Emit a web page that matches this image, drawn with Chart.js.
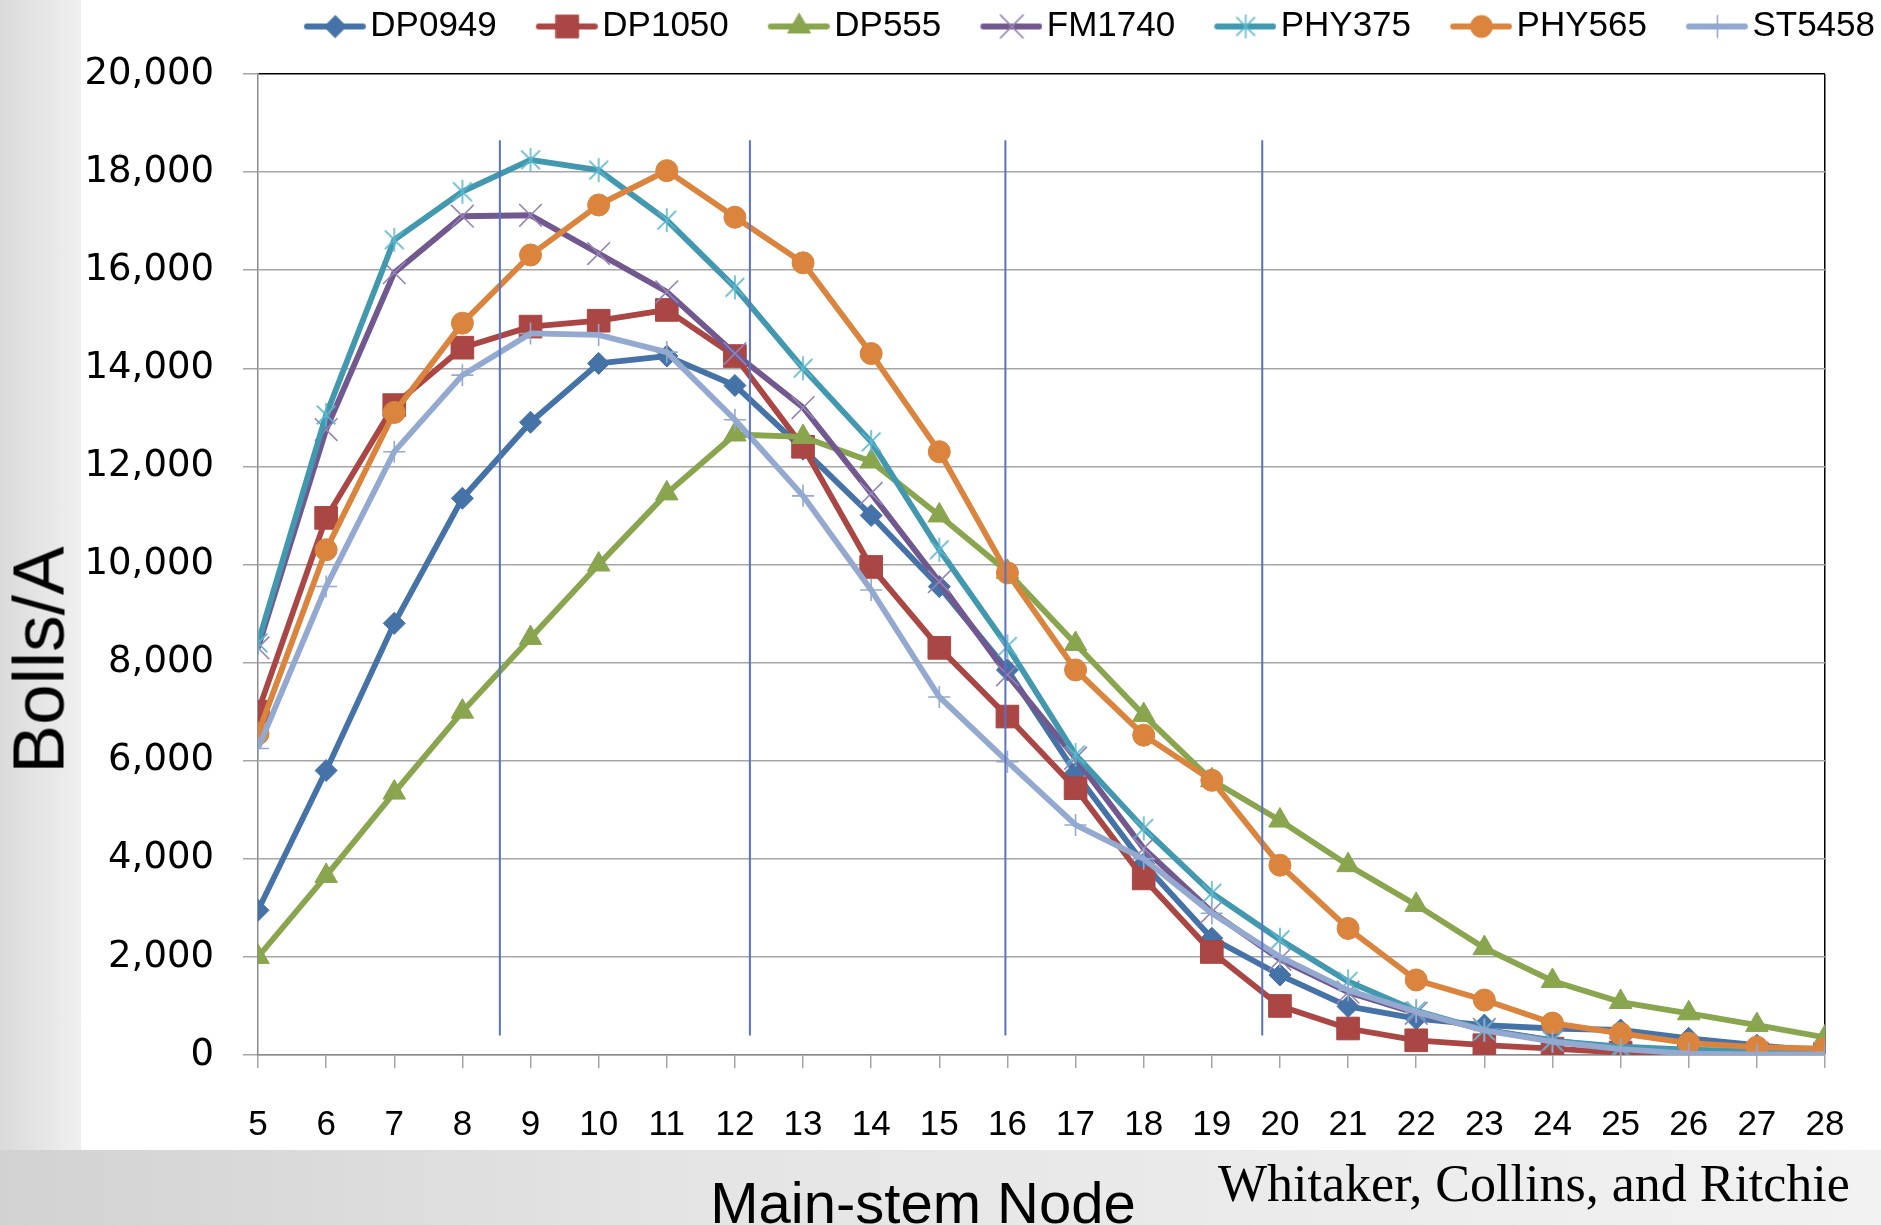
<!DOCTYPE html>
<html>
<head>
<meta charset="utf-8">
<script src="https://cdn.jsdelivr.net/npm/chart.js@4/dist/chart.umd.min.js"></script>
<style>
  html, body { margin: 0; padding: 0; width: 1881px; height: 1225px; overflow: hidden; }
  body {
    background:
      linear-gradient(to right, #dadada 0px, #f0f0f0 81px) 0 0 / 81px 1150px no-repeat,
      linear-gradient(to right, #d2d2d2 0%, #e4e4e4 35%, #f2f2f2 100%) 0 1150px / 1881px 75px no-repeat,
      #ececec;
  }
  #lienzo { position: relative; width: 1881px; height: 1225px; }
  #lienzo canvas { position: absolute; left: 0; top: 0; }
  .texto { position: absolute; white-space: nowrap; color: #000; line-height: 1; }
  #tituloY { left: 38px; top: 660px; font: 73px 'Liberation Sans', Arial, sans-serif; transform: translate(-50%, -50%) rotate(-90deg); }
  #tituloX { left: 923px; top: 1169px; font: 58px 'Liberation Sans', Arial, sans-serif; transform: translateX(-50%); }
  #cita { left: 1218px; top: 1154px; font: 52px 'Liberation Serif', 'Times New Roman', serif; }
</style>
</head>
<body>
<div id="lienzo">
  <canvas id="bollos" width="1881" height="1225"></canvas>
  <div class="texto" id="tituloY">Bolls/A</div>
  <div class="texto" id="tituloX">Main-stem Node</div>
  <div class="texto" id="cita">Whitaker, Collins, and Ritchie</div>
</div>
<script>
// === Datos ===
const nodos = [5, 6, 7, 8, 9, 10, 11, 12, 13, 14, 15, 16, 17, 18, 19, 20, 21, 22, 23, 24, 25, 26, 27, 28];
const variedades = ['DP0949', 'DP1050', 'DP555', 'FM1740', 'PHY375', 'PHY565', 'ST5458'];

const dp0949 = [2950, 5800, 8800, 11350, 12900, 14100, 14250, 13650, 12350, 11000, 9550, 7850, 5750, 3900, 2380, 1630, 990, 740, 610, 540, 510, 340, 200, 70];
const dp1050 = [7000, 10950, 13250, 14420, 14850, 14970, 15190, 14250, 12400, 9950, 8300, 6900, 5440, 3600, 2100, 1000, 540, 300, 200, 130, 50, 20, 20, 20];
const dp555 = [2000, 3650, 5350, 7000, 8500, 10000, 11450, 12650, 12600, 12100, 11000, 9850, 8380, 6930, 5600, 4780, 3870, 3060, 2180, 1510, 1080, 850, 610, 360];
const fm1740 = [8300, 12750, 15950, 17100, 17120, 16340, 15560, 14300, 13200, 11450, 9650, 7750, 6050, 4210, 2920, 1950, 1280, 850, 520, 300, 130, 60, 40, 30];
const phy375 = [8400, 13050, 16620, 17600, 18250, 18040, 17020, 15650, 14000, 12500, 10300, 8330, 6120, 4620, 3300, 2350, 1500, 900, 510, 290, 170, 110, 80, 60];
const phy565 = [6550, 10300, 13100, 14920, 16310, 17330, 18030, 17080, 16150, 14300, 12300, 9830, 7850, 6520, 5600, 3870, 2580, 1530, 1120, 650, 440, 240, 160, 130];
const st5458 = [6250, 9550, 12300, 13860, 14710, 14680, 14330, 12950, 11400, 9480, 7300, 5980, 4690, 4000, 2890, 2000, 1320, 880, 500, 270, 120, 30, 10, 10];

// lineas verticales azules (nodo) y su alto (Bolls/A)
const divisiones = [8.55, 12.22, 15.97, 19.74];
const rangoDivision = [400, 18650];

const valores = [dp0949, dp1050, dp555, fm1740, phy375, phy565, st5458];

// === Estilos ===
const colorLinea = ['#4572a7', '#aa4643', '#89a54e', '#71588f', '#4198af', '#db843d', '#93a9cf'];
const colorMarca = ['#4572a7', '#aa4643', '#89a54e', '#9484b6', '#5cb6cc', '#db843d', '#93a9cf'];
const grosorLinea = 5.8;

function asterisco(color, r) {
  const c = document.createElement('canvas');
  c.width = c.height = 2 * r + 4;
  const g = c.getContext('2d');
  const m = r + 2, d = r * 0.78;
  g.strokeStyle = color;
  g.lineWidth = 1.6;
  g.beginPath();
  g.moveTo(m, m - r); g.lineTo(m, m + r);
  g.moveTo(m - d, m - d); g.lineTo(m + d, m + d);
  g.moveTo(m + d, m - d); g.lineTo(m - d, m + d);
  g.stroke();
  return c;
}

const marcas = [
  { estilo: 'rectRot', radio: 11, borde: 1 },
  { estilo: 'rect', radio: 16, borde: 1 },
  { estilo: 'triangle', radio: 13, borde: 1 },
  { estilo: 'crossRot', radio: 16, borde: 1.6 },
  { estilo: asterisco(colorMarca[4], 12), radio: 12, borde: 1.6 },
  { estilo: 'circle', radio: 11, borde: 1 },
  { estilo: 'cross', radio: 11, borde: 1.6 }
];

function iconoLeyenda(i) {
  const c = document.createElement('canvas');
  c.width = 108; c.height = 40;
  const g = c.getContext('2d');
  g.strokeStyle = colorLinea[i];
  g.lineWidth = grosorLinea;
  g.lineCap = 'round';
  g.beginPath(); g.moveTo(49, 20); g.lineTo(105, 20); g.stroke();
  g.fillStyle = colorMarca[i];
  g.strokeStyle = colorMarca[i];
  g.lineWidth = marcas[i].borde;
  Chart.helpers.drawPoint(g, { pointStyle: marcas[i].estilo, radius: marcas[i].radio, rotation: 0, borderWidth: marcas[i].borde }, 77.5, 20);
  return c;
}

const seriesDatos = variedades.map((nombre, i) => ({
  label: nombre,
  data: nodos.map((n, k) => ({ x: n, y: valores[i][k] })),
  borderColor: colorLinea[i],
  backgroundColor: colorLinea[i],
  borderWidth: grosorLinea,
  borderJoinStyle: 'round',
  pointStyle: marcas[i].estilo,
  pointRadius: marcas[i].radio,
  pointBorderWidth: marcas[i].borde,
  pointBackgroundColor: colorMarca[i],
  pointBorderColor: colorMarca[i],
  tension: 0,
  order: 10 - i
}));

const seriesDivision = divisiones.map(x => ({
  label: '',
  data: rangoDivision.map(y => ({ x: x, y: y })),
  borderColor: '#5873c4',
  borderWidth: 2,
  pointRadius: 0,
  order: 0
}));

// === Fondo blanco de la imagen del grafico ===
const fondoBlanco = {
  id: 'fondoBlanco',
  beforeDraw(chart) {
    const ctx = chart.ctx;
    ctx.save();
    ctx.fillStyle = '#ffffff';
    ctx.fillRect(81, 0, chart.width - 81, 1150);
    ctx.restore();
  }
};

// alto fijo de la leyenda para que el area del grafico empiece en y=74
const altoLeyenda = {
  id: 'altoLeyenda',
  beforeLayout(chart) {
    const ley = chart.legend;
    if (ley && !ley._parcheada) {
      const fitOriginal = ley.fit;
      ley.fit = function () { fitOriginal.call(this); this.height = 71; };
      ley._parcheada = true;
    }
  }
};

const gris = '#a5a5a5';

new Chart(document.getElementById('bollos'), {
  type: 'line',
  data: { datasets: seriesDatos.concat(seriesDivision) },
  options: {
    responsive: false,
    animation: false,
    devicePixelRatio: 1,
    locale: 'en-US',
    layout: { padding: { top: 3, left: 0, right: 0, bottom: 0 } },
    plugins: {
      tooltip: { enabled: false },
      legend: {
        position: 'top',
        align: 'end',
        labels: {
          usePointStyle: true,
          pointStyleWidth: 82,
          padding: 6,
          color: '#000',
          font: { family: "'Liberation Sans', Arial, sans-serif", size: 35 },
          generateLabels: chart => variedades.map((nombre, i) => ({
            text: nombre,
            pointStyle: iconoLeyenda(i),
            fillStyle: 'transparent',
            strokeStyle: 'transparent',
            lineWidth: 0,
            fontColor: '#000',
            hidden: false,
            datasetIndex: i
          }))
        }
      }
    },
    scales: {
      x: {
        type: 'linear',
        min: 5,
        max: 28,
        afterFit: s => { s.height = 170; s.paddingRight = 56; },
        ticks: {
          stepSize: 1,
          autoSkip: false,
          maxRotation: 0,
          padding: 36,
          color: '#000',
          font: { family: "'Liberation Sans', Arial, sans-serif", size: 35 }
        },
        grid: {
          drawOnChartArea: true,
          color: c => (c.tick && c.tick.value === 28 ? '#000' : 'transparent'),
          tickColor: gris,
          tickLength: 13,
          lineWidth: 1.5
        },
        border: { color: '#8c8c8c', width: 1.5 }
      },
      y: {
        min: 0,
        max: 20000,
        afterFit: s => { s.width = 258; },
        ticks: {
          stepSize: 2000,
          padding: 29,
          color: '#000',
          font: { family: "'DejaVu Sans', Verdana, sans-serif", size: 37 }
        },
        grid: {
          color: c => (c.tick && c.tick.value === 20000 ? '#000' : gris),
          tickColor: gris,
          tickLength: 15,
          lineWidth: 1.5
        },
        border: { color: '#8c8c8c', width: 1.5 }
      }
    }
  },
  plugins: [fondoBlanco, altoLeyenda]
});
</script>
</body>
</html>
